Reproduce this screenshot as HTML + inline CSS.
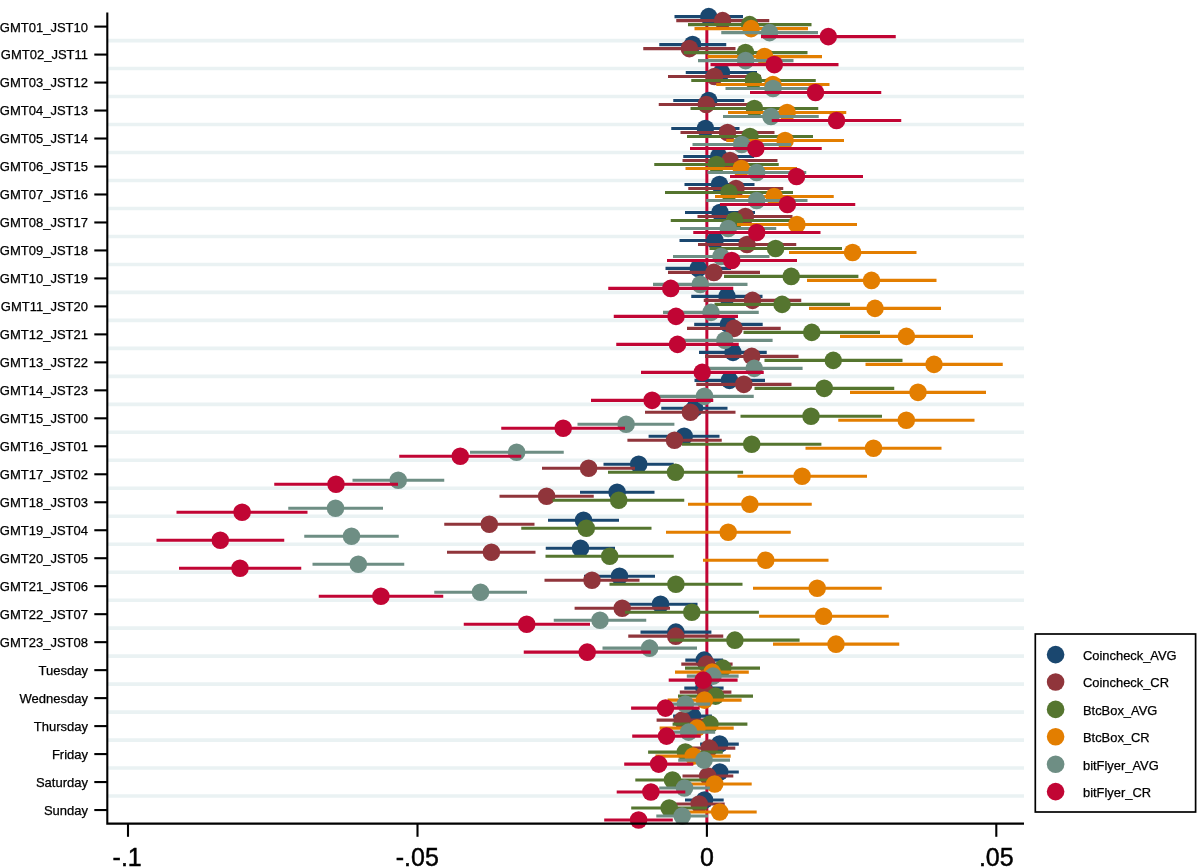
<!DOCTYPE html>
<html><head><meta charset="utf-8"><title>coefplot</title>
<style>html,body{margin:0;padding:0;background:#fff}svg{display:block}text{font-family:"Liberation Sans",Arial,Helvetica,sans-serif;fill:#000}</style></head>
<body>
<svg width="1200" height="867" viewBox="0 0 1200 867">
<rect width="1200" height="867" fill="#fff"/>
<g stroke="#eaf2f3" stroke-width="3.6">
<line x1="108" x2="1024" y1="40.59" y2="40.59"/>
<line x1="108" x2="1024" y1="68.57" y2="68.57"/>
<line x1="108" x2="1024" y1="96.55" y2="96.55"/>
<line x1="108" x2="1024" y1="124.53" y2="124.53"/>
<line x1="108" x2="1024" y1="152.51" y2="152.51"/>
<line x1="108" x2="1024" y1="180.49" y2="180.49"/>
<line x1="108" x2="1024" y1="208.47" y2="208.47"/>
<line x1="108" x2="1024" y1="236.45" y2="236.45"/>
<line x1="108" x2="1024" y1="264.43" y2="264.43"/>
<line x1="108" x2="1024" y1="292.41" y2="292.41"/>
<line x1="108" x2="1024" y1="320.39" y2="320.39"/>
<line x1="108" x2="1024" y1="348.37" y2="348.37"/>
<line x1="108" x2="1024" y1="376.35" y2="376.35"/>
<line x1="108" x2="1024" y1="404.33" y2="404.33"/>
<line x1="108" x2="1024" y1="432.31" y2="432.31"/>
<line x1="108" x2="1024" y1="460.29" y2="460.29"/>
<line x1="108" x2="1024" y1="488.27" y2="488.27"/>
<line x1="108" x2="1024" y1="516.25" y2="516.25"/>
<line x1="108" x2="1024" y1="544.23" y2="544.23"/>
<line x1="108" x2="1024" y1="572.21" y2="572.21"/>
<line x1="108" x2="1024" y1="600.19" y2="600.19"/>
<line x1="108" x2="1024" y1="628.17" y2="628.17"/>
<line x1="108" x2="1024" y1="656.15" y2="656.15"/>
<line x1="108" x2="1024" y1="684.13" y2="684.13"/>
<line x1="108" x2="1024" y1="712.11" y2="712.11"/>
<line x1="108" x2="1024" y1="740.09" y2="740.09"/>
<line x1="108" x2="1024" y1="768.07" y2="768.07"/>
<line x1="108" x2="1024" y1="796.05" y2="796.05"/>
</g>
<line x1="706.85" x2="706.85" y1="12.5" y2="823.5" stroke="#c10534" stroke-width="3.0"/>
<g stroke="#1a476f" stroke-width="3.1" fill="#1a476f">
<line x1="674.50" x2="743.00" y1="16.60" y2="16.60"/>
<line x1="659.25" x2="726.25" y1="44.58" y2="44.58"/>
<line x1="685.75" x2="757.00" y1="72.56" y2="72.56"/>
<line x1="673.25" x2="744.25" y1="100.54" y2="100.54"/>
<line x1="671.25" x2="739.50" y1="128.52" y2="128.52"/>
<line x1="683.25" x2="754.25" y1="156.50" y2="156.50"/>
<line x1="684.50" x2="754.50" y1="184.48" y2="184.48"/>
<line x1="685.00" x2="755.00" y1="212.46" y2="212.46"/>
<line x1="679.50" x2="750.50" y1="240.44" y2="240.44"/>
<line x1="665.50" x2="731.00" y1="268.42" y2="268.42"/>
<line x1="691.25" x2="762.50" y1="296.40" y2="296.40"/>
<line x1="694.20" x2="762.70" y1="324.38" y2="324.38"/>
<line x1="699.00" x2="766.75" y1="352.36" y2="352.36"/>
<line x1="694.50" x2="765.00" y1="380.34" y2="380.34"/>
<line x1="661.25" x2="727.50" y1="408.32" y2="408.32"/>
<line x1="648.60" x2="719.50" y1="436.30" y2="436.30"/>
<line x1="603.50" x2="673.75" y1="464.28" y2="464.28"/>
<line x1="580.00" x2="654.50" y1="492.26" y2="492.26"/>
<line x1="548.00" x2="619.00" y1="520.24" y2="520.24"/>
<line x1="545.75" x2="615.00" y1="548.22" y2="548.22"/>
<line x1="584.00" x2="655.00" y1="576.20" y2="576.20"/>
<line x1="623.50" x2="697.50" y1="604.18" y2="604.18"/>
<line x1="640.50" x2="711.40" y1="632.16" y2="632.16"/>
<line x1="685.30" x2="723.10" y1="660.14" y2="660.14"/>
<line x1="684.30" x2="723.60" y1="688.12" y2="688.12"/>
<line x1="673.10" x2="711.90" y1="716.10" y2="716.10"/>
<line x1="700.10" x2="738.80" y1="744.08" y2="744.08"/>
<line x1="700.60" x2="738.80" y1="772.06" y2="772.06"/>
<line x1="685.00" x2="723.70" y1="800.04" y2="800.04"/>
</g>
<g fill="#1a476f">
<circle cx="708.75" cy="16.60" r="8.8"/>
<circle cx="692.60" cy="44.58" r="8.8"/>
<circle cx="721.50" cy="72.56" r="8.8"/>
<circle cx="708.75" cy="100.54" r="8.8"/>
<circle cx="705.40" cy="128.52" r="8.8"/>
<circle cx="718.75" cy="156.50" r="8.8"/>
<circle cx="719.50" cy="184.48" r="8.8"/>
<circle cx="720.00" cy="212.46" r="8.8"/>
<circle cx="715.00" cy="240.44" r="8.8"/>
<circle cx="698.25" cy="268.42" r="8.8"/>
<circle cx="727.00" cy="296.40" r="8.8"/>
<circle cx="728.40" cy="324.38" r="8.8"/>
<circle cx="733.00" cy="352.36" r="8.8"/>
<circle cx="729.50" cy="380.34" r="8.8"/>
<circle cx="694.50" cy="408.32" r="8.8"/>
<circle cx="684.20" cy="436.30" r="8.8"/>
<circle cx="638.70" cy="464.28" r="8.8"/>
<circle cx="617.10" cy="492.26" r="8.8"/>
<circle cx="583.50" cy="520.24" r="8.8"/>
<circle cx="580.50" cy="548.22" r="8.8"/>
<circle cx="619.50" cy="576.20" r="8.8"/>
<circle cx="660.50" cy="604.18" r="8.8"/>
<circle cx="675.90" cy="632.16" r="8.8"/>
<circle cx="704.20" cy="660.14" r="8.8"/>
<circle cx="703.90" cy="688.12" r="8.8"/>
<circle cx="692.50" cy="716.10" r="8.8"/>
<circle cx="719.60" cy="744.08" r="8.8"/>
<circle cx="719.70" cy="772.06" r="8.8"/>
<circle cx="704.50" cy="800.04" r="8.8"/>
</g>
<g stroke="#90353b" stroke-width="3.1" fill="#90353b">
<line x1="676.25" x2="769.25" y1="20.60" y2="20.60"/>
<line x1="643.25" x2="735.50" y1="48.58" y2="48.58"/>
<line x1="668.00" x2="761.00" y1="76.56" y2="76.56"/>
<line x1="658.75" x2="753.75" y1="104.54" y2="104.54"/>
<line x1="680.50" x2="774.50" y1="132.52" y2="132.52"/>
<line x1="682.50" x2="777.50" y1="160.50" y2="160.50"/>
<line x1="688.25" x2="783.25" y1="188.48" y2="188.48"/>
<line x1="697.50" x2="792.50" y1="216.46" y2="216.46"/>
<line x1="698.00" x2="796.25" y1="244.44" y2="244.44"/>
<line x1="668.00" x2="760.00" y1="272.42" y2="272.42"/>
<line x1="703.75" x2="801.25" y1="300.40" y2="300.40"/>
<line x1="687.00" x2="780.75" y1="328.38" y2="328.38"/>
<line x1="705.00" x2="798.50" y1="356.36" y2="356.36"/>
<line x1="696.25" x2="791.50" y1="384.34" y2="384.34"/>
<line x1="645.00" x2="735.50" y1="412.32" y2="412.32"/>
<line x1="627.40" x2="721.75" y1="440.30" y2="440.30"/>
<line x1="542.00" x2="635.00" y1="468.28" y2="468.28"/>
<line x1="499.50" x2="593.75" y1="496.26" y2="496.26"/>
<line x1="444.25" x2="534.50" y1="524.24" y2="524.24"/>
<line x1="447.00" x2="535.50" y1="552.22" y2="552.22"/>
<line x1="544.50" x2="639.50" y1="580.20" y2="580.20"/>
<line x1="574.60" x2="670.00" y1="608.18" y2="608.18"/>
<line x1="628.25" x2="723.25" y1="636.16" y2="636.16"/>
<line x1="681.30" x2="732.60" y1="664.14" y2="664.14"/>
<line x1="679.80" x2="731.40" y1="692.12" y2="692.12"/>
<line x1="656.60" x2="707.80" y1="720.10" y2="720.10"/>
<line x1="683.60" x2="735.30" y1="748.08" y2="748.08"/>
<line x1="682.50" x2="733.30" y1="776.06" y2="776.06"/>
<line x1="673.70" x2="724.70" y1="804.04" y2="804.04"/>
</g>
<g fill="#90353b">
<circle cx="722.60" cy="20.60" r="8.8"/>
<circle cx="689.40" cy="48.58" r="8.8"/>
<circle cx="714.50" cy="76.56" r="8.8"/>
<circle cx="706.25" cy="104.54" r="8.8"/>
<circle cx="727.50" cy="132.52" r="8.8"/>
<circle cx="730.00" cy="160.50" r="8.8"/>
<circle cx="736.00" cy="188.48" r="8.8"/>
<circle cx="745.40" cy="216.46" r="8.8"/>
<circle cx="747.00" cy="244.44" r="8.8"/>
<circle cx="713.90" cy="272.42" r="8.8"/>
<circle cx="752.50" cy="300.40" r="8.8"/>
<circle cx="734.00" cy="328.38" r="8.8"/>
<circle cx="751.75" cy="356.36" r="8.8"/>
<circle cx="743.80" cy="384.34" r="8.8"/>
<circle cx="690.40" cy="412.32" r="8.8"/>
<circle cx="674.50" cy="440.30" r="8.8"/>
<circle cx="588.60" cy="468.28" r="8.8"/>
<circle cx="546.60" cy="496.26" r="8.8"/>
<circle cx="489.30" cy="524.24" r="8.8"/>
<circle cx="491.40" cy="552.22" r="8.8"/>
<circle cx="592.00" cy="580.20" r="8.8"/>
<circle cx="622.20" cy="608.18" r="8.8"/>
<circle cx="675.75" cy="636.16" r="8.8"/>
<circle cx="706.60" cy="664.14" r="8.8"/>
<circle cx="705.60" cy="692.12" r="8.8"/>
<circle cx="682.20" cy="720.10" r="8.8"/>
<circle cx="709.40" cy="748.08" r="8.8"/>
<circle cx="707.70" cy="776.06" r="8.8"/>
<circle cx="699.20" cy="804.04" r="8.8"/>
</g>
<g stroke="#55752f" stroke-width="3.1" fill="#55752f">
<line x1="688.00" x2="811.50" y1="24.60" y2="24.60"/>
<line x1="683.75" x2="807.50" y1="52.58" y2="52.58"/>
<line x1="691.25" x2="815.75" y1="80.56" y2="80.56"/>
<line x1="690.50" x2="818.25" y1="108.54" y2="108.54"/>
<line x1="687.00" x2="813.00" y1="136.52" y2="136.52"/>
<line x1="654.25" x2="778.75" y1="164.50" y2="164.50"/>
<line x1="665.00" x2="793.00" y1="192.48" y2="192.48"/>
<line x1="670.75" x2="798.25" y1="220.46" y2="220.46"/>
<line x1="709.50" x2="842.00" y1="248.44" y2="248.44"/>
<line x1="724.00" x2="858.40" y1="276.42" y2="276.42"/>
<line x1="714.50" x2="850.00" y1="304.40" y2="304.40"/>
<line x1="743.50" x2="880.00" y1="332.38" y2="332.38"/>
<line x1="764.50" x2="902.50" y1="360.36" y2="360.36"/>
<line x1="754.50" x2="894.25" y1="388.34" y2="388.34"/>
<line x1="740.50" x2="882.00" y1="416.32" y2="416.32"/>
<line x1="682.00" x2="821.40" y1="444.30" y2="444.30"/>
<line x1="608.00" x2="743.10" y1="472.28" y2="472.28"/>
<line x1="552.50" x2="684.25" y1="500.26" y2="500.26"/>
<line x1="521.25" x2="651.50" y1="528.24" y2="528.24"/>
<line x1="545.50" x2="673.75" y1="556.22" y2="556.22"/>
<line x1="609.50" x2="742.50" y1="584.20" y2="584.20"/>
<line x1="625.00" x2="758.90" y1="612.18" y2="612.18"/>
<line x1="670.00" x2="799.60" y1="640.16" y2="640.16"/>
<line x1="685.00" x2="760.00" y1="668.14" y2="668.14"/>
<line x1="678.00" x2="753.00" y1="696.12" y2="696.12"/>
<line x1="672.60" x2="747.40" y1="724.10" y2="724.10"/>
<line x1="648.10" x2="722.80" y1="752.08" y2="752.08"/>
<line x1="635.30" x2="709.70" y1="780.06" y2="780.06"/>
<line x1="631.20" x2="707.20" y1="808.04" y2="808.04"/>
</g>
<g fill="#55752f">
<circle cx="749.60" cy="24.60" r="8.8"/>
<circle cx="745.50" cy="52.58" r="8.8"/>
<circle cx="753.40" cy="80.56" r="8.8"/>
<circle cx="754.40" cy="108.54" r="8.8"/>
<circle cx="750.00" cy="136.52" r="8.8"/>
<circle cx="716.50" cy="164.50" r="8.8"/>
<circle cx="729.00" cy="192.48" r="8.8"/>
<circle cx="734.50" cy="220.46" r="8.8"/>
<circle cx="775.60" cy="248.44" r="8.8"/>
<circle cx="791.20" cy="276.42" r="8.8"/>
<circle cx="782.10" cy="304.40" r="8.8"/>
<circle cx="811.75" cy="332.38" r="8.8"/>
<circle cx="833.25" cy="360.36" r="8.8"/>
<circle cx="824.25" cy="388.34" r="8.8"/>
<circle cx="811.00" cy="416.32" r="8.8"/>
<circle cx="751.70" cy="444.30" r="8.8"/>
<circle cx="675.50" cy="472.28" r="8.8"/>
<circle cx="618.70" cy="500.26" r="8.8"/>
<circle cx="586.30" cy="528.24" r="8.8"/>
<circle cx="609.70" cy="556.22" r="8.8"/>
<circle cx="675.90" cy="584.20" r="8.8"/>
<circle cx="691.80" cy="612.18" r="8.8"/>
<circle cx="734.90" cy="640.16" r="8.8"/>
<circle cx="722.80" cy="668.14" r="8.8"/>
<circle cx="715.50" cy="696.12" r="8.8"/>
<circle cx="710.00" cy="724.10" r="8.8"/>
<circle cx="685.40" cy="752.08" r="8.8"/>
<circle cx="672.50" cy="780.06" r="8.8"/>
<circle cx="669.20" cy="808.04" r="8.8"/>
</g>
<g stroke="#e37e00" stroke-width="3.1" fill="#e37e00">
<line x1="694.50" x2="808.00" y1="28.60" y2="28.60"/>
<line x1="707.50" x2="822.00" y1="56.58" y2="56.58"/>
<line x1="716.25" x2="829.50" y1="84.56" y2="84.56"/>
<line x1="728.00" x2="846.25" y1="112.54" y2="112.54"/>
<line x1="726.25" x2="844.00" y1="140.52" y2="140.52"/>
<line x1="685.50" x2="797.00" y1="168.50" y2="168.50"/>
<line x1="715.00" x2="833.75" y1="196.48" y2="196.48"/>
<line x1="737.00" x2="857.00" y1="224.46" y2="224.46"/>
<line x1="789.00" x2="916.50" y1="252.44" y2="252.44"/>
<line x1="807.00" x2="936.50" y1="280.42" y2="280.42"/>
<line x1="809.00" x2="941.00" y1="308.40" y2="308.40"/>
<line x1="840.00" x2="973.00" y1="336.38" y2="336.38"/>
<line x1="865.50" x2="1002.75" y1="364.36" y2="364.36"/>
<line x1="850.00" x2="986.00" y1="392.34" y2="392.34"/>
<line x1="838.25" x2="974.50" y1="420.32" y2="420.32"/>
<line x1="805.50" x2="941.50" y1="448.30" y2="448.30"/>
<line x1="737.50" x2="867.00" y1="476.28" y2="476.28"/>
<line x1="688.00" x2="811.75" y1="504.26" y2="504.26"/>
<line x1="666.00" x2="790.75" y1="532.24" y2="532.24"/>
<line x1="703.00" x2="828.50" y1="560.22" y2="560.22"/>
<line x1="753.00" x2="881.75" y1="588.20" y2="588.20"/>
<line x1="759.10" x2="888.75" y1="616.18" y2="616.18"/>
<line x1="773.00" x2="899.25" y1="644.16" y2="644.16"/>
<line x1="675.00" x2="748.80" y1="672.14" y2="672.14"/>
<line x1="667.60" x2="741.60" y1="700.12" y2="700.12"/>
<line x1="659.60" x2="733.70" y1="728.10" y2="728.10"/>
<line x1="655.50" x2="730.70" y1="756.08" y2="756.08"/>
<line x1="677.70" x2="751.70" y1="784.06" y2="784.06"/>
<line x1="682.70" x2="756.70" y1="812.04" y2="812.04"/>
</g>
<g fill="#e37e00">
<circle cx="751.10" cy="28.60" r="8.8"/>
<circle cx="764.60" cy="56.58" r="8.8"/>
<circle cx="772.90" cy="84.56" r="8.8"/>
<circle cx="787.10" cy="112.54" r="8.8"/>
<circle cx="785.10" cy="140.52" r="8.8"/>
<circle cx="741.25" cy="168.50" r="8.8"/>
<circle cx="774.20" cy="196.48" r="8.8"/>
<circle cx="796.90" cy="224.46" r="8.8"/>
<circle cx="852.60" cy="252.44" r="8.8"/>
<circle cx="871.50" cy="280.42" r="8.8"/>
<circle cx="875.00" cy="308.40" r="8.8"/>
<circle cx="906.40" cy="336.38" r="8.8"/>
<circle cx="934.00" cy="364.36" r="8.8"/>
<circle cx="918.00" cy="392.34" r="8.8"/>
<circle cx="906.30" cy="420.32" r="8.8"/>
<circle cx="873.50" cy="448.30" r="8.8"/>
<circle cx="802.10" cy="476.28" r="8.8"/>
<circle cx="749.80" cy="504.26" r="8.8"/>
<circle cx="728.20" cy="532.24" r="8.8"/>
<circle cx="765.75" cy="560.22" r="8.8"/>
<circle cx="817.20" cy="588.20" r="8.8"/>
<circle cx="823.60" cy="616.18" r="8.8"/>
<circle cx="836.00" cy="644.16" r="8.8"/>
<circle cx="712.20" cy="672.14" r="8.8"/>
<circle cx="704.50" cy="700.12" r="8.8"/>
<circle cx="697.00" cy="728.10" r="8.8"/>
<circle cx="693.20" cy="756.08" r="8.8"/>
<circle cx="714.70" cy="784.06" r="8.8"/>
<circle cx="719.70" cy="812.04" r="8.8"/>
</g>
<g stroke="#6e8e84" stroke-width="3.1" fill="#6e8e84">
<line x1="721.25" x2="818.00" y1="32.60" y2="32.60"/>
<line x1="698.00" x2="793.50" y1="60.58" y2="60.58"/>
<line x1="725.50" x2="820.00" y1="88.56" y2="88.56"/>
<line x1="723.00" x2="818.75" y1="116.54" y2="116.54"/>
<line x1="692.50" x2="791.25" y1="144.52" y2="144.52"/>
<line x1="707.50" x2="806.25" y1="172.50" y2="172.50"/>
<line x1="706.25" x2="807.50" y1="200.48" y2="200.48"/>
<line x1="680.00" x2="776.25" y1="228.46" y2="228.46"/>
<line x1="673.00" x2="769.50" y1="256.44" y2="256.44"/>
<line x1="653.00" x2="747.50" y1="284.42" y2="284.42"/>
<line x1="663.00" x2="758.75" y1="312.40" y2="312.40"/>
<line x1="677.00" x2="772.60" y1="340.38" y2="340.38"/>
<line x1="706.25" x2="802.60" y1="368.36" y2="368.36"/>
<line x1="655.25" x2="753.75" y1="396.34" y2="396.34"/>
<line x1="577.50" x2="674.40" y1="424.32" y2="424.32"/>
<line x1="470.00" x2="563.75" y1="452.30" y2="452.30"/>
<line x1="352.50" x2="444.25" y1="480.28" y2="480.28"/>
<line x1="288.25" x2="383.00" y1="508.26" y2="508.26"/>
<line x1="304.25" x2="398.75" y1="536.24" y2="536.24"/>
<line x1="312.50" x2="404.25" y1="564.22" y2="564.22"/>
<line x1="434.25" x2="527.00" y1="592.20" y2="592.20"/>
<line x1="553.75" x2="646.25" y1="620.18" y2="620.18"/>
<line x1="602.50" x2="697.00" y1="648.16" y2="648.16"/>
<line x1="686.80" x2="738.60" y1="676.14" y2="676.14"/>
<line x1="660.60" x2="710.20" y1="704.12" y2="704.12"/>
<line x1="662.00" x2="715.20" y1="732.10" y2="732.10"/>
<line x1="678.20" x2="730.00" y1="760.08" y2="760.08"/>
<line x1="659.20" x2="709.90" y1="788.06" y2="788.06"/>
<line x1="656.30" x2="708.00" y1="816.04" y2="816.04"/>
</g>
<g fill="#6e8e84">
<circle cx="769.50" cy="32.60" r="8.8"/>
<circle cx="745.60" cy="60.58" r="8.8"/>
<circle cx="773.00" cy="88.56" r="8.8"/>
<circle cx="771.00" cy="116.54" r="8.8"/>
<circle cx="741.70" cy="144.52" r="8.8"/>
<circle cx="756.70" cy="172.50" r="8.8"/>
<circle cx="756.70" cy="200.48" r="8.8"/>
<circle cx="728.20" cy="228.46" r="8.8"/>
<circle cx="721.00" cy="256.44" r="8.8"/>
<circle cx="700.25" cy="284.42" r="8.8"/>
<circle cx="711.00" cy="312.40" r="8.8"/>
<circle cx="724.80" cy="340.38" r="8.8"/>
<circle cx="754.20" cy="368.36" r="8.8"/>
<circle cx="704.50" cy="396.34" r="8.8"/>
<circle cx="626.10" cy="424.32" r="8.8"/>
<circle cx="516.60" cy="452.30" r="8.8"/>
<circle cx="398.25" cy="480.28" r="8.8"/>
<circle cx="335.50" cy="508.26" r="8.8"/>
<circle cx="351.50" cy="536.24" r="8.8"/>
<circle cx="358.30" cy="564.22" r="8.8"/>
<circle cx="480.50" cy="592.20" r="8.8"/>
<circle cx="600.00" cy="620.18" r="8.8"/>
<circle cx="649.60" cy="648.16" r="8.8"/>
<circle cx="713.00" cy="676.14" r="8.8"/>
<circle cx="685.40" cy="704.12" r="8.8"/>
<circle cx="688.60" cy="732.10" r="8.8"/>
<circle cx="704.00" cy="760.08" r="8.8"/>
<circle cx="684.50" cy="788.06" r="8.8"/>
<circle cx="682.20" cy="816.04" r="8.8"/>
</g>
<g stroke="#c10534" stroke-width="3.1" fill="#c10534">
<line x1="761.00" x2="895.75" y1="36.60" y2="36.60"/>
<line x1="710.50" x2="838.50" y1="64.58" y2="64.58"/>
<line x1="750.00" x2="881.25" y1="92.56" y2="92.56"/>
<line x1="771.75" x2="901.25" y1="120.54" y2="120.54"/>
<line x1="690.00" x2="821.75" y1="148.52" y2="148.52"/>
<line x1="730.00" x2="863.00" y1="176.50" y2="176.50"/>
<line x1="720.00" x2="855.25" y1="204.48" y2="204.48"/>
<line x1="693.25" x2="820.50" y1="232.46" y2="232.46"/>
<line x1="667.00" x2="797.00" y1="260.44" y2="260.44"/>
<line x1="608.25" x2="733.25" y1="288.42" y2="288.42"/>
<line x1="613.75" x2="738.00" y1="316.40" y2="316.40"/>
<line x1="616.25" x2="738.75" y1="344.38" y2="344.38"/>
<line x1="641.00" x2="763.75" y1="372.36" y2="372.36"/>
<line x1="591.00" x2="713.25" y1="400.34" y2="400.34"/>
<line x1="501.25" x2="625.00" y1="428.32" y2="428.32"/>
<line x1="399.25" x2="521.25" y1="456.30" y2="456.30"/>
<line x1="274.25" x2="398.00" y1="484.28" y2="484.28"/>
<line x1="176.50" x2="307.50" y1="512.26" y2="512.26"/>
<line x1="156.50" x2="284.25" y1="540.24" y2="540.24"/>
<line x1="179.00" x2="301.25" y1="568.22" y2="568.22"/>
<line x1="318.75" x2="443.25" y1="596.20" y2="596.20"/>
<line x1="463.75" x2="590.00" y1="624.18" y2="624.18"/>
<line x1="523.75" x2="650.75" y1="652.16" y2="652.16"/>
<line x1="668.70" x2="737.60" y1="680.14" y2="680.14"/>
<line x1="631.10" x2="699.70" y1="708.12" y2="708.12"/>
<line x1="632.20" x2="700.70" y1="736.10" y2="736.10"/>
<line x1="624.20" x2="693.30" y1="764.08" y2="764.08"/>
<line x1="616.70" x2="685.30" y1="792.06" y2="792.06"/>
<line x1="604.20" x2="672.80" y1="820.04" y2="820.04"/>
</g>
<g fill="#c10534">
<circle cx="828.30" cy="36.60" r="8.8"/>
<circle cx="774.30" cy="64.58" r="8.8"/>
<circle cx="815.50" cy="92.56" r="8.8"/>
<circle cx="836.50" cy="120.54" r="8.8"/>
<circle cx="755.80" cy="148.52" r="8.8"/>
<circle cx="796.50" cy="176.50" r="8.8"/>
<circle cx="787.40" cy="204.48" r="8.8"/>
<circle cx="756.70" cy="232.46" r="8.8"/>
<circle cx="731.75" cy="260.44" r="8.8"/>
<circle cx="670.75" cy="288.42" r="8.8"/>
<circle cx="676.00" cy="316.40" r="8.8"/>
<circle cx="677.50" cy="344.38" r="8.8"/>
<circle cx="702.20" cy="372.36" r="8.8"/>
<circle cx="652.10" cy="400.34" r="8.8"/>
<circle cx="563.20" cy="428.32" r="8.8"/>
<circle cx="460.25" cy="456.30" r="8.8"/>
<circle cx="336.00" cy="484.28" r="8.8"/>
<circle cx="242.10" cy="512.26" r="8.8"/>
<circle cx="220.30" cy="540.24" r="8.8"/>
<circle cx="240.00" cy="568.22" r="8.8"/>
<circle cx="380.90" cy="596.20" r="8.8"/>
<circle cx="526.70" cy="624.18" r="8.8"/>
<circle cx="587.20" cy="652.16" r="8.8"/>
<circle cx="703.20" cy="680.14" r="8.8"/>
<circle cx="665.50" cy="708.12" r="8.8"/>
<circle cx="666.50" cy="736.10" r="8.8"/>
<circle cx="658.70" cy="764.08" r="8.8"/>
<circle cx="650.90" cy="792.06" r="8.8"/>
<circle cx="638.60" cy="820.04" r="8.8"/>
</g>
<g stroke="#000" stroke-width="2.1" fill="none">
<path d="M107.3 12.5V823.6H1024"/>
<line x1="94.3" x2="107.3" y1="26.60" y2="26.60"/>
<line x1="94.3" x2="107.3" y1="54.58" y2="54.58"/>
<line x1="94.3" x2="107.3" y1="82.56" y2="82.56"/>
<line x1="94.3" x2="107.3" y1="110.54" y2="110.54"/>
<line x1="94.3" x2="107.3" y1="138.52" y2="138.52"/>
<line x1="94.3" x2="107.3" y1="166.50" y2="166.50"/>
<line x1="94.3" x2="107.3" y1="194.48" y2="194.48"/>
<line x1="94.3" x2="107.3" y1="222.46" y2="222.46"/>
<line x1="94.3" x2="107.3" y1="250.44" y2="250.44"/>
<line x1="94.3" x2="107.3" y1="278.42" y2="278.42"/>
<line x1="94.3" x2="107.3" y1="306.40" y2="306.40"/>
<line x1="94.3" x2="107.3" y1="334.38" y2="334.38"/>
<line x1="94.3" x2="107.3" y1="362.36" y2="362.36"/>
<line x1="94.3" x2="107.3" y1="390.34" y2="390.34"/>
<line x1="94.3" x2="107.3" y1="418.32" y2="418.32"/>
<line x1="94.3" x2="107.3" y1="446.30" y2="446.30"/>
<line x1="94.3" x2="107.3" y1="474.28" y2="474.28"/>
<line x1="94.3" x2="107.3" y1="502.26" y2="502.26"/>
<line x1="94.3" x2="107.3" y1="530.24" y2="530.24"/>
<line x1="94.3" x2="107.3" y1="558.22" y2="558.22"/>
<line x1="94.3" x2="107.3" y1="586.20" y2="586.20"/>
<line x1="94.3" x2="107.3" y1="614.18" y2="614.18"/>
<line x1="94.3" x2="107.3" y1="642.16" y2="642.16"/>
<line x1="94.3" x2="107.3" y1="670.14" y2="670.14"/>
<line x1="94.3" x2="107.3" y1="698.12" y2="698.12"/>
<line x1="94.3" x2="107.3" y1="726.10" y2="726.10"/>
<line x1="94.3" x2="107.3" y1="754.08" y2="754.08"/>
<line x1="94.3" x2="107.3" y1="782.06" y2="782.06"/>
<line x1="94.3" x2="107.3" y1="810.04" y2="810.04"/>
<line x1="128" x2="128" y1="823.6" y2="836.8"/>
<line x1="417.5" x2="417.5" y1="823.6" y2="836.8"/>
<line x1="706.9" x2="706.9" y1="823.6" y2="836.8"/>
<line x1="996.3" x2="996.3" y1="823.6" y2="836.8"/>
</g>
<g font-size="13" text-anchor="end" stroke="#000" stroke-width="0.25">
<text x="88" y="31.50">GMT01_JST10</text>
<text x="88" y="59.48">GMT02_JST11</text>
<text x="88" y="87.46">GMT03_JST12</text>
<text x="88" y="115.44">GMT04_JST13</text>
<text x="88" y="143.42">GMT05_JST14</text>
<text x="88" y="171.40">GMT06_JST15</text>
<text x="88" y="199.38">GMT07_JST16</text>
<text x="88" y="227.36">GMT08_JST17</text>
<text x="88" y="255.34">GMT09_JST18</text>
<text x="88" y="283.32">GMT10_JST19</text>
<text x="88" y="311.30">GMT11_JST20</text>
<text x="88" y="339.28">GMT12_JST21</text>
<text x="88" y="367.26">GMT13_JST22</text>
<text x="88" y="395.24">GMT14_JST23</text>
<text x="88" y="423.22">GMT15_JST00</text>
<text x="88" y="451.20">GMT16_JST01</text>
<text x="88" y="479.18">GMT17_JST02</text>
<text x="88" y="507.16">GMT18_JST03</text>
<text x="88" y="535.14">GMT19_JST04</text>
<text x="88" y="563.12">GMT20_JST05</text>
<text x="88" y="591.10">GMT21_JST06</text>
<text x="88" y="619.08">GMT22_JST07</text>
<text x="88" y="647.06">GMT23_JST08</text>
<text x="88" y="675.04">Tuesday</text>
<text x="88" y="703.02">Wednesday</text>
<text x="88" y="731.00">Thursday</text>
<text x="88" y="758.98">Friday</text>
<text x="88" y="786.96">Saturday</text>
<text x="88" y="814.94">Sunday</text>
</g>
<g font-size="25" text-anchor="middle" stroke="#000" stroke-width="0.45">
<text x="127.2" y="866.3">-.1</text>
<text x="417.3" y="866.3">-.05</text>
<text x="706.9" y="866.3">0</text>
<text x="996.3" y="866.3">.05</text>
</g>
<rect x="1035.3" y="634" width="160.3" height="178" fill="#fff" stroke="#000" stroke-width="1.7"/>
<g font-size="12.9" stroke="#000" stroke-width="0.25">
<circle cx="1055.6" cy="654.60" r="8.8" fill="#1a476f" stroke="none"/>
<text x="1083" y="659.90">Coincheck_AVG</text>
<circle cx="1055.6" cy="682.00" r="8.8" fill="#90353b" stroke="none"/>
<text x="1083" y="687.30">Coincheck_CR</text>
<circle cx="1055.6" cy="709.40" r="8.8" fill="#55752f" stroke="none"/>
<text x="1083" y="714.70">BtcBox_AVG</text>
<circle cx="1055.6" cy="736.80" r="8.8" fill="#e37e00" stroke="none"/>
<text x="1083" y="742.10">BtcBox_CR</text>
<circle cx="1055.6" cy="764.20" r="8.8" fill="#6e8e84" stroke="none"/>
<text x="1083" y="769.50">bitFlyer_AVG</text>
<circle cx="1055.6" cy="791.60" r="8.8" fill="#c10534" stroke="none"/>
<text x="1083" y="796.90">bitFlyer_CR</text>
</g>
</svg></body></html>
